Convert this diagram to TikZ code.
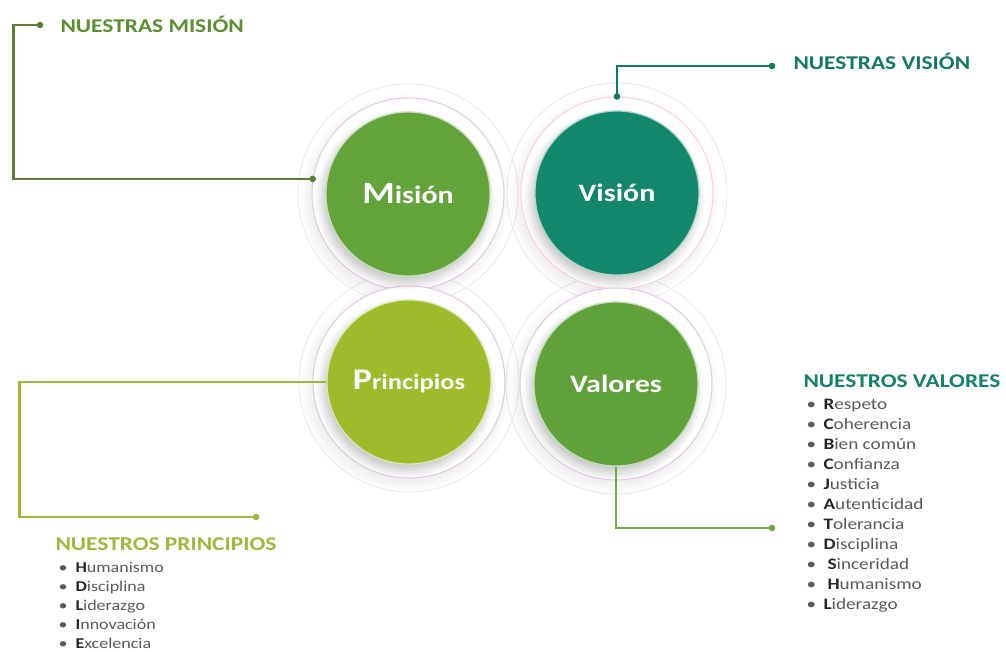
\documentclass[tikz,border=0pt]{standalone}
\usepackage{fontspec}
\setmainfont[FakeStretch=1.2]{Carlito}
\usetikzlibrary{positioning,shadows}
\definecolor{colmis}{HTML}{62A33A}
\definecolor{colvis}{HTML}{13876B}
\definecolor{colpri}{HTML}{9DBB2A}
\definecolor{colval}{HTML}{5FA23A}
\definecolor{linmis}{HTML}{5E7E38}
\definecolor{headmis}{HTML}{5A8E2E}
\definecolor{headvis}{HTML}{137A62}
\definecolor{linpri}{HTML}{9DB83A}
\definecolor{linval}{HTML}{6CAD45}
\definecolor{headval}{HTML}{138269}
\begin{document}
\begin{tikzpicture}[x=1pt,y=-1pt,
    halo/.style={circle,minimum size=220pt,inner sep=0pt,draw=black!9,line width=.8pt},
    ring/.style={circle,minimum size=192pt,inner sep=0pt,fill=white,draw=#1,line width=1pt,
      circular drop shadow={shadow xshift=-3pt,shadow yshift=-4pt,opacity=.15}},
    disc/.style={circle,minimum size=164pt,inner sep=0pt,text=white,fill=#1,
      draw=white!65!#1,line width=1.2pt,
      circular drop shadow={shadow xshift=-3pt,shadow yshift=-5pt,opacity=.4},
      font=\fontsize{25}{28}\selectfont\bfseries},
    link/.style={draw=#1,line width=2.6pt},
    head/.style={anchor=base west,text=#1,font=\fontsize{19.5}{22}\selectfont\bfseries},
    item/.style={anchor=base west,text=black!65,font=\fontsize{#1}{20}\selectfont}]
  \useasboundingbox (0,0) rectangle (1006,652);
  % circles
  \node[halo] at (408,194) {};
  \node[halo] at (617,193) {};
  \node[halo] at (409,382) {};
  \node[halo] at (616,384) {};
  \node[ring=violet!22] (misring) at (408,194) {};
  \node[ring=red!18] (visring) at (617,193) {};
  \node[ring=violet!22] (priring) at (409,382) {};
  \node[ring=violet!22] (valring) at (616,384) {};
  \node[disc=colmis] (mision) at (408,194) {{\fontsize{31}{31}\selectfont M}isión};
  \node[disc=colvis] (vision) at (617,193) {Visión};
  \node[disc=colpri,font=\fontsize{22}{26}\selectfont\bfseries] (principios) at (409,382) {{\fontsize{30}{30}\selectfont P}rincipios};
  \node[disc=colval] (valores) at (616,384) {Valores};
  % headings
  \coordinate (misdot) at (40,25);
  \coordinate (visdot) at (772,66);
  \coordinate (pridot) at (256,517);
  \coordinate (valdot) at (772,528);
  \node[head=headmis] (mistitle) at (57,33) {NUESTRAS MISIÓN};
  \node[head=headvis] (vistitle) at (790,70) {NUESTRAS VISIÓN};
  \node[head=linpri] (prititle) at (52,550) {NUESTROS PRINCIPIOS};
  \node[head=headval] (valtitle) at (800,387) {NUESTROS VALORES};
  % connectors
  \draw[link=linmis] (misring.171) -- ++(-299,0) |- (misdot);
  \fill[linmis] (misring.171) circle (3.3pt) (misdot) circle (3.3pt);
  \draw[link=headvis] (visring.north) |- (visdot);
  \fill[headvis] (visring.north) circle (3.3pt) (visdot) circle (3.3pt);
  \draw[link=linpri] (principios.west) -- ++(-307,0) |- (pridot);
  \fill[linpri] (pridot) circle (3.3pt);
  \draw[link=linval] (valores.south) |- (valdot);
  \fill[linval] (valdot) circle (3.3pt);
  % lists
  \foreach \f/\r [count=\i from 0] in {H/umanismo,D/isciplina,L/iderazgo,I/nnovación,E/xcelencia}
    \node[item=15] (pri\i) at (55,572+19*\i) {\makebox[17pt][l]{\textbullet}\textbf{\textcolor{black!85}{\f}}\r};
  \foreach \f/\r/\g [count=\i from 0] in {R/espeto/0,C/oherencia/0,B/ien común/0,C/onfianza/0,J/usticia/0,
      A/utenticidad/0,T/olerancia/0,D/isciplina/0,S/inceridad/4,H/umanismo/4,L/iderazgo/0}
    \node[item=16] (val\i) at (803,409+20*\i) {\makebox[17pt][l]{\textbullet}\hspace{\g pt}\textbf{\textcolor{black!85}{\f}}\r};
\end{tikzpicture}
\end{document}
